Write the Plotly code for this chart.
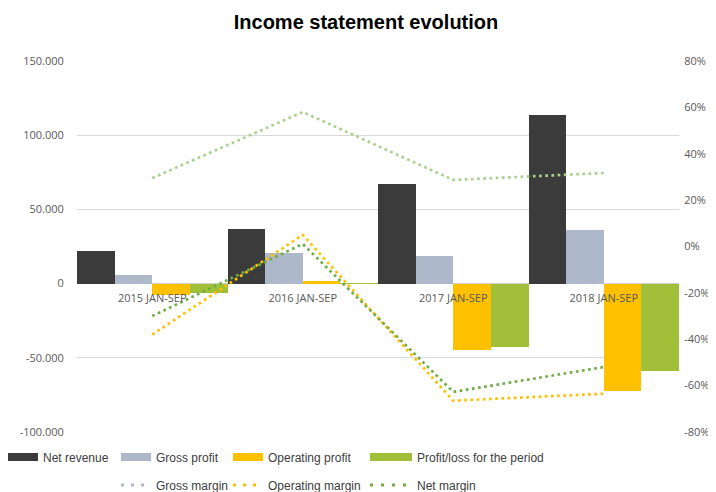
import plotly.graph_objects as go

categories = ["2015 JAN-SEP", "2016 JAN-SEP", "2017 JAN-SEP", "2018 JAN-SEP"]
net_revenue = [21800, 36500, 66900, 113500]
gross_profit = [6100, 20900, 18900, 36300]
operating_profit = [-7400, 2000, -44600, -72100]
profit_loss = [-6300, 400, -42400, -58800]
gross_margin = [0.295, 0.58, 0.287, 0.317]
operating_margin = [-0.38, 0.05, -0.665, -0.635]
net_margin = [-0.30, 0.011, -0.627, -0.52]

left_tickvals = [-100000, -50000, 0, 50000, 100000, 150000]
left_ticktext = ["-100.000", "-50.000", "0", "50.000", "100.000", "150.000"]
right_tickvals = [-0.8, -0.6, -0.4, -0.2, 0, 0.2, 0.4, 0.6, 0.8]
right_ticktext = ["-80%", "-60%", "-40%", "-20%", "0%", "20%", "40%", "60%", "80%"]

C_NET = "#3b3b3b"
C_GROSS = "#adb9ca"
C_OP = "#ffc000"
C_PL = "#a2bf3a"
C_GM_LINE = "#a9d08e"
C_NM = "#70ad47"

fig = go.Figure()
bar_series = [("Net revenue", net_revenue, C_NET), ("Gross profit", gross_profit, C_GROSS),
              ("Operating profit", operating_profit, C_OP), ("Profit/loss for the period", profit_loss, C_PL)]
for name, vals, col in bar_series:
    fig.add_trace(go.Bar(x=categories, y=vals, name=name, marker=dict(color=col, line=dict(width=0)),
                         showlegend=False, yaxis="y"))

line_series = [("Gross margin", gross_margin, C_GM_LINE), ("Operating margin", operating_margin, C_OP),
               ("Net margin", net_margin, C_NM)]
for name, vals, col in line_series:
    fig.add_trace(go.Scatter(x=categories, y=vals, name=name, mode="lines",
                             line=dict(color=col, width=2.7, dash="2.7px,3.5px"),
                             showlegend=False, yaxis="y2"))

# page body has an 8px margin: lay out in window pixels, then shift
OFF = 8
W, H = 716 - OFF, 492 - OFF
PL, PR, PT, PB = 77 - OFF, 679 - OFF, 61 - OFF, 432 - OFF
PW, PH = PR - PL, PB - PT

legend_items = [
    ("Net revenue", C_NET, "solid", 8, 3, 457, 30),
    ("Gross profit", C_GROSS, "solid", 8, 116, 457, 30),
    ("Operating profit", C_OP, "solid", 8, 228, 457, 30),
    ("Profit/loss for the period", C_PL, "solid", 8, 365, 457, 42),
    ("Gross margin", C_GROSS, "3px,7px", 3, 116, 485, 30),
    ("Operating margin", C_OP, "3px,7px", 3, 228, 485, 30),
    ("Net margin", C_NM, "3px,8px", 3, 365, 485, 42),
]
legend_font = dict(family="Liberation Sans, Arial, sans-serif", size=12, color="#404040")
layout_legends = {}
for i, (name, col, dash, w, lx, ly, iw) in enumerate(legend_items):
    key = "legend" if i == 0 else f"legend{i+1}"
    fig.add_trace(go.Scatter(x=[None], y=[None], name=name, mode="lines",
                             line=dict(color=col, width=w, dash=dash),
                             showlegend=True, legend=key, hoverinfo="skip"))
    layout_legends[key] = dict(x=(lx - OFF - PL) / PW, y=(PB - (ly - OFF)) / PH,
                               xref="paper", yref="paper",
                               xanchor="left", yanchor="middle",
                               orientation="v", font=legend_font, itemwidth=iw,
                               bgcolor="rgba(0,0,0,0)", borderwidth=0)

tick_font = dict(family="Open Sans, sans-serif", size=11, color="#595959")

fig.update_layout(
    width=W, height=H,
    margin=dict(l=PL, r=W - PR, t=PT, b=H - PB, autoexpand=False),
    paper_bgcolor="white", plot_bgcolor="white",
    barmode="group", bargap=0, bargroupgap=0,
    title=dict(text="<b>Income statement evolution</b>", x=(366 - OFF) / W, xref="container",
               xanchor="center", y=1 - (22 - OFF) / H, yref="container", yanchor="middle",
               font=dict(family="Liberation Sans, Arial, sans-serif", size=20, color="#000000")),
    xaxis=dict(type="category", anchor="free", position=0.4, showline=False, showgrid=False,
               ticks="", ticklabelstandoff=6, automargin=False,
               tickfont=dict(family="Open Sans, sans-serif", size=11, color="#595959"),
               zeroline=False),
    yaxis=dict(range=[-100000, 150000], tickvals=left_tickvals, ticktext=left_ticktext,
               showgrid=True, gridcolor="#d9d9d9", gridwidth=1, zeroline=True, zerolinecolor="#d0d0d0",
               zerolinewidth=1, ticks="outside", ticklen=10, tickcolor="rgba(0,0,0,0)",
               tickfont=tick_font, showline=False, automargin=False),
    yaxis2=dict(range=[-0.8, 0.8], overlaying="y", side="right", tickvals=right_tickvals,
                ticktext=right_ticktext, showgrid=False, zeroline=False, ticks="outside", ticklen=2,
                tickcolor="rgba(0,0,0,0)", tickfont=tick_font, showline=False, automargin=False),
    **layout_legends,
)

fig.write_html("out.html")
